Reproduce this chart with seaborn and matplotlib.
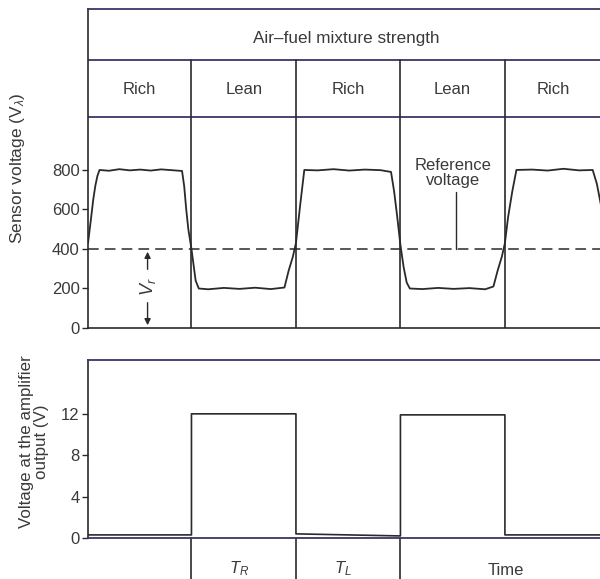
import matplotlib
matplotlib.use("Agg")
import matplotlib.pyplot as plt
import seaborn as sns

# time axis: one half period (rich or lean phase) = 1 unit
boundaries = [0.99, 1.99, 2.99, 3.99]
phase_labels = ["Rich", "Lean", "Rich", "Lean", "Rich"]
phase_centres = [0.49, 1.49, 2.49, 3.49, 4.45]

sensor_t = [0.00, 0.03, 0.05, 0.07, 0.09, 0.11, 0.20, 0.30, 0.40, 0.50, 0.60, 0.70, 0.80, 0.90,
            0.92, 0.94, 0.96, 0.99, 1.01, 1.03, 1.06, 1.15, 1.30, 1.45, 1.60, 1.75, 1.88,
            1.92, 1.96, 1.99, 2.03, 2.07, 2.20, 2.35, 2.50, 2.65, 2.80, 2.90,
            2.93, 2.96, 2.99, 3.02, 3.05, 3.08, 3.20, 3.35, 3.50, 3.65, 3.80, 3.88,
            3.92, 3.96, 3.99, 4.02, 4.06, 4.10, 4.25, 4.40, 4.55, 4.70, 4.83, 4.87, 4.91]
sensor_v = [430, 560, 650, 720, 770, 800, 796, 804, 798, 802, 797, 803, 799, 795,
            720, 600, 500, 400, 320, 240, 200, 196, 203, 198, 204, 197, 205,
            290, 360, 430, 620, 800, 798, 804, 797, 802, 799, 790,
            690, 560, 420, 310, 230, 200, 197, 203, 198, 202, 196, 210,
            290, 360, 430, 560, 690, 800, 802, 797, 806, 798, 800, 730, 620]

amp_t = [0.00, 0.99, 0.99, 1.99, 1.99, 2.99, 2.99, 3.99, 3.99, 4.91]
amp_v = [0.30, 0.30, 12.0, 12.0, 0.40, 0.20, 11.9, 11.9, 0.30, 0.30]

ref_voltage = 400
sensor_ticks = [0, 200, 400, 600, 800]
amp_ticks = [0, 4, 8, 12]

sns.set_theme(style="white")
plt.rcParams["font.family"] = ["Liberation Sans", "DejaVu Sans"]
plt.rcParams["mathtext.fontset"] = "custom"
plt.rcParams["mathtext.rm"] = "Liberation Sans"
plt.rcParams["mathtext.it"] = "Liberation Sans:italic"

ink = "#2a2a2a"
rule = "#3b3566"
txt = "#3a3a3a"

fig = plt.figure(figsize=(6, 5.79), dpi=100)
ax1 = fig.add_axes([0.1467, 0.4335, 0.8533, 0.551])
ax2 = fig.add_axes([0.1467, 0.0708, 0.8533, 0.3074])

# ---- top panel (with header rows) ----
ax1.set_xlim(0, 4.9)
ax1.set_ylim(0, 1615)
row1, row2 = 1357, 1068
for yy in [row1, row2]:
    ax1.axhline(yy, color=rule, lw=1.3)
for b in boundaries:
    ax1.plot([b, b], [0, row1], color=ink, lw=1.2)
ax1.text(2.47, 1466, "Air\u2013fuel mixture strength", ha="center", va="center",
         fontsize=12.3, color=txt)
for c, lab in zip(phase_centres, phase_labels):
    ax1.text(c, 1205, lab, ha="center", va="center", fontsize=12, color=txt)

ax1.axhline(ref_voltage, color=ink, lw=1.1, ls=(0, (7, 4)))
sns.lineplot(x=sensor_t, y=sensor_v, ax=ax1, color=ink, lw=1.3, estimator=None, sort=False)

ax1.annotate("", xy=(0.57, ref_voltage), xytext=(0.57, 283),
             arrowprops=dict(arrowstyle="-|>", color=ink, lw=1, mutation_scale=9))
ax1.annotate("", xy=(0.57, 0), xytext=(0.57, 142),
             arrowprops=dict(arrowstyle="-|>", color=ink, lw=1, mutation_scale=9))
ax1.text(0.57, 210, "$V_r$", rotation=90, ha="center", va="center", fontsize=13, color=txt)

ax1.text(3.49, 785, "Reference\nvoltage", ha="center", va="center", fontsize=12,
         color=txt, linespacing=1.05)
ax1.plot([3.52, 3.52], [690, ref_voltage], color=ink, lw=1)

ax1.set_yticks(sensor_ticks)
ax1.set_xticks([])
ax1.tick_params(axis="y", left=True, length=4, width=1, color=ink, labelsize=12,
                labelcolor=txt, pad=2)
ax1.set_ylabel("Sensor voltage (V$_\\lambda$)", fontsize=12.5, color=txt)
ax1.yaxis.set_label_coords(-0.12, 0.5)
for s in ["left", "bottom"]:
    ax1.spines[s].set_color(ink)
    ax1.spines[s].set_linewidth(1.2)
ax1.spines["top"].set_color(rule)
ax1.spines["top"].set_linewidth(1.3)
ax1.spines["right"].set_visible(False)

# ---- amplifier output panel ----
ax2.set_xlim(0, 4.9)
ax2.set_ylim(0, 17.2)
sns.lineplot(x=amp_t, y=amp_v, ax=ax2, color=ink, lw=1.2, estimator=None, sort=False)
for b in boundaries[:3]:
    ax2.plot([b, b], [0, -5], color=ink, lw=1.2, clip_on=False)
ax2.text(1.45, -3.9, "$T_R$", ha="center", va="bottom", fontsize=12, color=txt, clip_on=False)
ax2.text(2.44, -3.9, "$T_L$", ha="center", va="bottom", fontsize=12, color=txt, clip_on=False)
ax2.text(4.0, -3.9, "Time", ha="center", va="bottom", fontsize=12, color=txt, clip_on=False)

ax2.set_yticks(amp_ticks)
ax2.set_xticks([])
ax2.tick_params(axis="y", left=True, length=4, width=1, color=ink, labelsize=12,
                labelcolor=txt, pad=2)
ax2.set_ylabel("Voltage at the amplifier\noutput (V)", fontsize=12.2, color=txt, linespacing=1.0)
ax2.yaxis.set_label_coords(-0.076, 0.54)
ax2.spines["left"].set_color(ink)
ax2.spines["left"].set_linewidth(1.2)
ax2.spines["top"].set_color(rule)
ax2.spines["top"].set_linewidth(1.3)
ax2.spines["bottom"].set_color(rule)
ax2.spines["bottom"].set_linewidth(1.3)
ax2.spines["right"].set_visible(False)

fig.savefig("out.png", dpi=100)
